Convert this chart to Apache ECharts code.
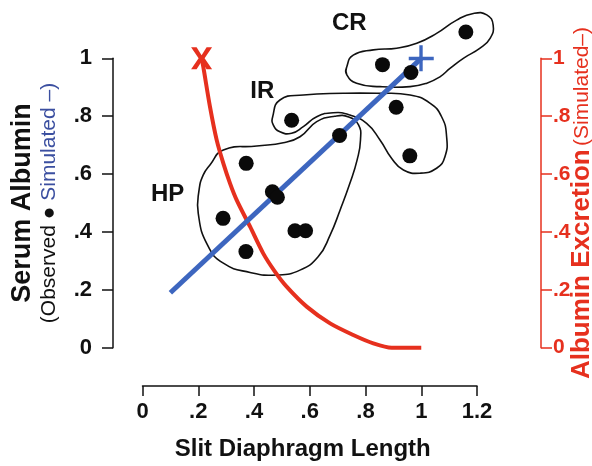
<!DOCTYPE html>
<html><head><meta charset="utf-8">
<script src="https://cdn.jsdelivr.net/npm/echarts@6/dist/echarts.min.js"></script>
<style>html,body{margin:0;padding:0;background:#fff}#c{width:592px;height:466px}</style>
</head><body><div id="c"></div>
<script>
// ---- data ----
const xTicks = [0, 0.2, 0.4, 0.6, 0.8, 1, 1.2];
const xTickLabels = ['0', '.2', '.4', '.6', '.8', '1', '1.2'];
const yTicks = [0, 0.2, 0.4, 0.6, 0.8, 1];
const yTickLabels = ['0', '.2', '.4', '.6', '.8', '1'];

// observed serum albumin (black dots)
const observedX = [1.160, 0.861, 0.963, 0.910, 0.959, 0.535, 0.707, 0.372, 0.466, 0.484, 0.289, 0.547, 0.585, 0.371];
const observedY = [1.091, 0.978, 0.951, 0.831, 0.663, 0.786, 0.733, 0.637, 0.539, 0.520, 0.447, 0.404, 0.404, 0.332];

// simulated serum albumin (blue line)
const simAlbuminX = [0.10, 1.00];
const simAlbuminY = [0.19, 1.00];

// simulated albumin excretion (red curve)
const excretionX = [0.212, 0.218, 0.242, 0.266, 0.290, 0.314, 0.338, 0.386, 0.433, 0.475, 0.517, 0.589, 0.673, 0.756, 0.828, 0.894, 1.000];
const excretionY = [1.000, 0.971, 0.833, 0.718, 0.637, 0.568, 0.510, 0.418, 0.326, 0.263, 0.211, 0.142, 0.084, 0.044, 0.015, 0.000, 0.000];

// end markers
const excretionMarker = [0.212, 1.0];   // red X
const albuminMarker = [1.0, 1.0];       // blue +

// group outlines (data units)
const contourCR = [[0.733,0.971],[0.756,1.011],[0.828,1.029],[0.912,1.035],[0.984,1.052],[1.055,1.086],[1.127,1.132],[1.187,1.155],[1.235,1.150],[1.258,1.115],[1.247,1.069],[1.211,1.035],[1.151,1.000],[1.103,0.965],[1.067,0.936],[1.020,0.914],[0.960,0.902],[0.852,0.902],[0.768,0.914],[0.733,0.943]];
const contourIR = [[0.467,0.798],[0.493,0.856],[0.577,0.873],[0.720,0.879],[0.840,0.879],[0.960,0.873],[1.031,0.845],[1.073,0.798],[1.091,0.729],[1.085,0.660],[1.055,0.620],[0.996,0.603],[0.936,0.614],[0.894,0.654],[0.852,0.718],[0.804,0.775],[0.744,0.804],[0.684,0.812],[0.625,0.798],[0.577,0.764],[0.535,0.741],[0.493,0.746],[0.469,0.770]];
const contourHP = [[0.242,0.631],[0.290,0.683],[0.410,0.697],[0.505,0.708],[0.565,0.729],[0.625,0.781],[0.690,0.800],[0.740,0.797],[0.775,0.770],[0.782,0.718],[0.770,0.649],[0.744,0.568],[0.709,0.476],[0.673,0.389],[0.630,0.314],[0.565,0.268],[0.481,0.251],[0.386,0.260],[0.290,0.292],[0.233,0.355],[0.200,0.464],[0.203,0.545],[0.218,0.597]];

const groupNames = ['CR', 'IR', 'HP'];
const groupLabelX = [0.742, 0.430, 0.090];
const groupLabelY = [1.121, 0.885, 0.531];

// ---- chart ----
const F = "'Liberation Sans', Arial, Helvetica, sans-serif";
const RED = '#e6301e';
const BLUE = '#3d66bf';
const INK = '#111111';
const contours = [contourCR, contourIR, contourHP];
function tickText(v, ticks, labels) {
  for (let i = 0; i < ticks.length; i++) if (Math.abs(ticks[i] - v) < 1e-6) return labels[i];
  return '';
}
const chart = echarts.init(document.getElementById('c'), null, {renderer: 'canvas'});
chart.setOption({
  animation: false,
  backgroundColor: '#fff',
  grid: {left: 142.5, right: 115, top: 58.3, bottom: 118.3, containLabel: false, outerBoundsMode: 'none'},
  xAxis: {
    type: 'value', min: 0, max: 1.2, interval: 0.2, position: 'bottom', offset: 38.3,
    axisLine: {show: true, onZero: false, lineStyle: {color: INK, width: 1.5}},
    axisTick: {show: true, length: 10, lineStyle: {color: INK, width: 1.5}},
    splitLine: {show: false},
    axisLabel: {margin: 15, color: INK, fontSize: 22, fontWeight: 'bold', fontFamily: F,
      formatter: v => tickText(v, xTicks, xTickLabels)},
    name: 'Slit Diaphragm Length', nameLocation: 'middle', nameGap: 51, nameMoveOverlap: false,
    nameTextStyle: {fontSize: 24, fontWeight: 'bold', color: INK, fontFamily: F, padding: [0, 14, 0, 0]}
  },
  yAxis: [{
    type: 'value', min: 0, max: 1, interval: 0.2, position: 'left', offset: 29.5,
    axisLine: {show: true, onZero: false, lineStyle: {color: INK, width: 1.5}},
    axisTick: {show: true, length: 11, lineStyle: {color: INK, width: 1.5}},
    splitLine: {show: false},
    axisLabel: {margin: 21, color: INK, fontSize: 22, fontWeight: 'bold', fontFamily: F,
      formatter: v => tickText(v, yTicks, yTickLabels)},
    name: '{t|Serum Albumin}\n{o|(Observed \u25CF }{s|Simulated \u2013)}',
    nameLocation: 'middle', nameGap: 51, nameMoveOverlap: false,
    nameTextStyle: {rich: {
      t: {fontSize: 27, fontWeight: 'bold', color: INK, fontFamily: F, lineHeight: 28},
      o: {fontSize: 21, color: INK, fontFamily: F, lineHeight: 25},
      s: {fontSize: 21, color: '#3b4fa0', fontFamily: F, lineHeight: 25}
    }}
  }, {
    type: 'value', min: 0, max: 1, interval: 0.2, position: 'right', offset: 64,
    axisLine: {show: true, onZero: false, lineStyle: {color: RED, width: 1.5}},
    axisTick: {show: true, length: 11, lineStyle: {color: RED, width: 1.5}},
    splitLine: {show: false},
    axisLabel: {margin: 12, color: RED, fontSize: 21, fontWeight: 'bold', fontFamily: F,
      formatter: v => tickText(v, yTicks, yTickLabels)},
    name: '{t|Albumin Excretion} {s|(Simulated\u2013)}',
    nameLocation: 'middle', nameGap: 28, nameMoveOverlap: false,
    nameTextStyle: {rich: {
      t: {fontSize: 26, fontWeight: 'bold', color: RED, fontFamily: F, lineHeight: 26},
      s: {fontSize: 21, color: RED, fontFamily: F, lineHeight: 26}
    }}
  }],
  series: [
    {
      type: 'custom', coordinateSystem: 'cartesian2d', silent: true, z: 1, clip: false,
      data: contours.map(c => [c[0][0], c[0][1]]),
      renderItem: (params, api) => {
        const pts = contours[params.dataIndex].map(p => api.coord(p));
        return {type: 'polygon', shape: {points: pts, smooth: 0.5},
          style: {fill: 'none', stroke: INK, lineWidth: 1.6}};
      }
    },
    {
      type: 'line', yAxisIndex: 1, z: 2, clip: false, showSymbol: false, symbol: 'none', smooth: 0.3,
      lineStyle: {color: RED, width: 4},
      data: excretionX.map((x, i) => [x, excretionY[i]])
    },
    {
      type: 'line', z: 3, clip: false, showSymbol: false, symbol: 'none',
      lineStyle: {color: BLUE, width: 5},
      data: simAlbuminX.map((x, i) => [x, simAlbuminY[i]])
    },
    {
      type: 'scatter', z: 4, clip: false, symbol: 'circle', symbolSize: 15,
      itemStyle: {color: '#0a0a0a', opacity: 1},
      data: observedX.map((x, i) => [x, observedY[i]])
    },
    {
      type: 'scatter', yAxisIndex: 1, z: 5, clip: false,
      symbol: 'path://M0,0 L5.5,0 L10.5,7.5 L15.5,0 L21,0 L13.5,10.5 L21,21 L15.5,21 L10.5,13.5 L5.5,21 L0,21 L7.5,10.5 Z',
      symbolSize: [21, 22], symbolKeepAspect: false,
      itemStyle: {color: RED, opacity: 1},
      data: [excretionMarker]
    },
    {
      type: 'scatter', z: 5, clip: false,
      symbol: 'path://M11,0 L14.5,0 L14.5,11.5 L26,11.5 L26,15 L14.5,15 L14.5,26 L11,26 L11,15 L0,15 L0,11.5 L11,11.5 Z',
      symbolSize: [25, 26],
      itemStyle: {color: BLUE, opacity: 1},
      data: [albuminMarker]
    },
    {
      type: 'scatter', z: 6, clip: false, symbolSize: 1, silent: true,
      itemStyle: {color: 'rgba(0,0,0,0)', opacity: 1},
      label: {show: true, position: 'inside', formatter: '{b}', fontSize: 24, fontWeight: 'bold', color: INK, fontFamily: F, opacity: 1},
      data: groupNames.map((n, i) => ({name: n, value: [groupLabelX[i], groupLabelY[i]]}))
    }
  ]
});
</script>
</body></html>
